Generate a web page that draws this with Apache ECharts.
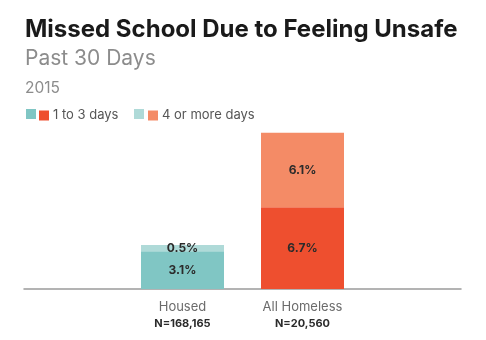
<!DOCTYPE html>
<html>
<head>
<meta charset="utf-8">
<script src="https://cdn.jsdelivr.net/npm/echarts@6/dist/echarts.min.js"></script>
<style>
  html, body { margin: 0; padding: 0; background: #ffffff; }
  #chart { width: 486px; height: 340px; }
</style>
</head>
<body>
<div id="chart"></div>
<script>
// Share of students who missed school because they felt unsafe (past 30 days, 2015)
const groups = ['Housed', 'All Homeless'];
const sampleSizes = ['N=168,165', 'N=20,560'];
const oneToThreeDays = [3.1, 6.7];
const fourOrMoreDays = [0.5, 6.1];

const colors = {
  housedLow: '#80c6c4',
  housedHigh: '#afdad8',
  homelessLow: '#ee4f2f',
  homelessHigh: '#f48b66'
};

const FONT = 'Inter, "Noto Sans", sans-serif';

// one column per group, the other slot left empty so each group gets its own palette
function only(arr, idx) {
  return arr.map((v, i) => (i === idx ? v : '-'));
}

const labelStyle = {
  show: true,
  position: 'inside',
  formatter: p => p.value + '%',
  color: '#2b2b2b',
  fontFamily: FONT,
  fontWeight: 'bold',
  fontSize: 12
};

function barSeries(name, data, color) {
  return {
    name: name,
    type: 'bar',
    stack: 'total',
    xAxisIndex: 0,
    yAxisIndex: 0,
    barWidth: 83,
    data: data,
    itemStyle: { color: color },
    label: labelStyle,
    emphasis: { disabled: true }
  };
}

const series = [
  barSeries('Housed: 1 to 3 days', only(oneToThreeDays, 0), colors.housedLow),
  barSeries('1 to 3 days', only(oneToThreeDays, 1), colors.homelessLow),
  barSeries('Housed: 4 or more days', only(fourOrMoreDays, 0), colors.housedHigh),
  barSeries('4 or more days', only(fourOrMoreDays, 1), colors.homelessHigh)
];

// each swatch pair shares one caption: the first swatch carries no text
function legendItem(name, left, withText) {
  return {
    data: [name],
    left: left,
    top: 109,
    icon: 'rect',
    itemWidth: 10,
    itemHeight: 10,
    itemGap: 0,
    padding: 0,
    selectedMode: false,
    formatter: withText ? (n => n) : (() => ''),
    textStyle: { color: '#555', fontFamily: FONT, fontSize: 13, padding: [0, 0, 0, -1] }
  };
}

const chart = echarts.init(document.getElementById('chart'), null, { renderer: 'canvas' });

chart.setOption({
  animation: false,
  backgroundColor: '#ffffff',
  title: [
    {
      text: 'Missed School Due to Feeling Unsafe',
      left: 25, top: 18, padding: 0,
      textStyle: { fontFamily: FONT, fontWeight: 'bold', fontSize: 24, color: '#1a1a1a' }
    },
    {
      text: 'Past 30 Days',
      left: 25, top: 48, padding: 0,
      textStyle: { fontFamily: FONT, fontWeight: 'normal', fontSize: 21, color: '#8c8c8c' }
    },
    {
      text: '2015',
      left: 25, top: 80, padding: 0,
      textStyle: { fontFamily: FONT, fontWeight: 'normal', fontSize: 15.5, color: '#8c8c8c' }
    }
  ],
  legend: [
    legendItem('Housed: 1 to 3 days', 26, false),
    legendItem('1 to 3 days', 39, true),
    legendItem('Housed: 4 or more days', 134, false),
    legendItem('4 or more days', 148, true)
  ],
  grid: [
    { left: 122.5, right: 123.5, top: 118, bottom: 51 },
    { left: 24, right: 25, top: 118, bottom: 51 }
  ],
  xAxis: [
    {
      type: 'category',
      gridIndex: 0,
      data: groups,
      axisLine: { show: false },
      axisTick: { show: false },
      axisLabel: {
        margin: 10,
        interval: 0,
        formatter: (v, i) => '{g|' + v + '}\n{n|' + sampleSizes[i] + '}',
        rich: {
          g: { fontFamily: FONT, fontSize: 13, color: '#6b6b6b', lineHeight: 17 },
          n: { fontFamily: FONT, fontSize: 11, fontWeight: 'bold', color: '#2b2b2b', lineHeight: 15 }
        }
      }
    },
    {
      type: 'category',
      gridIndex: 1,
      data: [''],
      axisLine: { show: true, lineStyle: { color: '#9a9a9a', width: 1.5 } },
      axisTick: { show: false },
      axisLabel: { show: false }
    }
  ],
  yAxis: [
    { type: 'value', gridIndex: 0, min: 0, max: 14, show: false, splitLine: { show: false } },
    { type: 'value', gridIndex: 1, min: 0, max: 14, show: false, splitLine: { show: false } }
  ],
  series: series
});
</script>
</body>
</html>
